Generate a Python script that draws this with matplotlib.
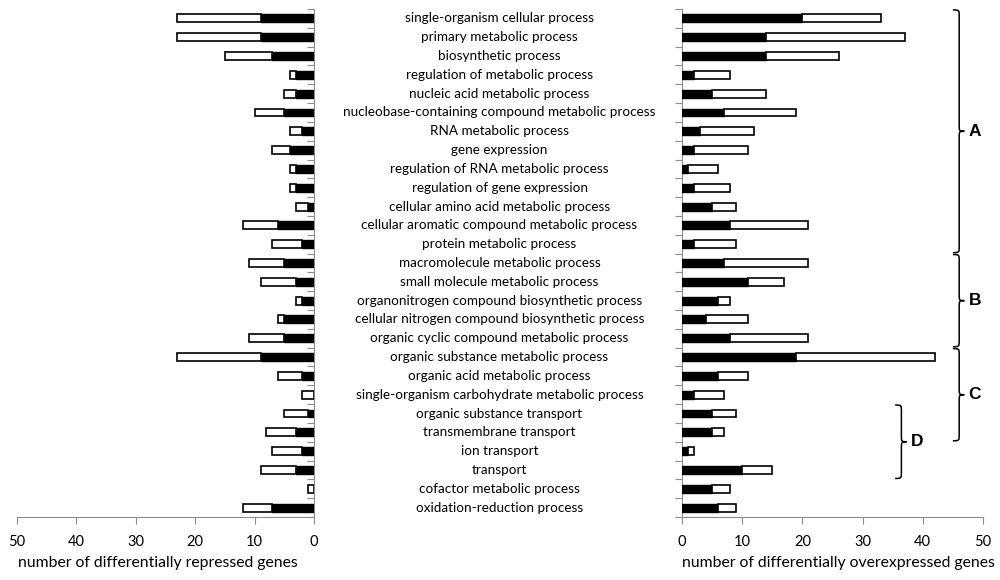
import matplotlib
matplotlib.use("Agg")
import matplotlib.pyplot as plt
from matplotlib.path import Path
from matplotlib.patches import PathPatch
from matplotlib.transforms import blended_transform_factory
import numpy as np

categories = [
    "single-organism cellular process",
    "primary metabolic process",
    "biosynthetic process",
    "regulation of metabolic process",
    "nucleic acid metabolic process",
    "nucleobase-containing compound metabolic process",
    "RNA metabolic process",
    "gene expression",
    "regulation of RNA metabolic process",
    "regulation of gene expression",
    "cellular amino acid metabolic process",
    "cellular aromatic compound metabolic process",
    "protein metabolic process",
    "macromolecule metabolic process",
    "small molecule metabolic process",
    "organonitrogen compound biosynthetic process",
    "cellular nitrogen compound biosynthetic process",
    "organic cyclic compound metabolic process",
    "organic substance metabolic process",
    "organic acid metabolic process",
    "single-organism carbohydrate metabolic process",
    "organic substance transport",
    "transmembrane transport",
    "ion transport",
    "transport",
    "cofactor metabolic process",
    "oxidation-reduction process",
]

# repressed genes: black part and total bar length
repressed_black = [9, 9, 7, 3, 3, 5, 2, 4, 3, 3, 1, 6, 2, 5, 3, 2, 5, 5, 9, 2, 0, 1, 3, 2, 3, 0, 7]
repressed_total = [23, 23, 15, 4, 5, 10, 4, 7, 4, 4, 3, 12, 7, 11, 9, 3, 6, 11, 23, 6, 2, 5, 8, 7, 9, 1, 12]

# overexpressed genes: black part and total bar length
over_black = [20, 14, 14, 2, 5, 7, 3, 2, 1, 2, 5, 8, 2, 7, 11, 6, 4, 8, 19, 6, 2, 5, 5, 1, 10, 5, 6]
over_total = [33, 37, 26, 8, 14, 19, 12, 11, 6, 8, 9, 21, 9, 21, 17, 8, 11, 21, 42, 11, 7, 9, 7, 2, 15, 8, 9]

x_ticks = [0, 10, 20, 30, 40, 50]
xlabel_left = "number of differentially repressed genes"
xlabel_right = "number of differentially overexpressed genes"

# groups: label, first row, last row
group_labels = ["A", "B", "C", "D"]
group_first = [0, 13, 18, 21]
group_last = [12, 17, 22, 24]

FONT = "Lato"
plt.rcParams["font.family"] = [FONT, "DejaVu Sans"]

fig = plt.figure(figsize=(10, 5.8), dpi=100)
bottom = 1 - 517 / 580
top = 1 - 9 / 580
axL = fig.add_axes([17 / 1000, bottom, (314 - 17) / 1000, top - bottom])
axR = fig.add_axes([682 / 1000, bottom, (983 - 682) / 1000, top - bottom])

y = np.arange(len(categories))
rb = np.array(repressed_black)
rt = np.array(repressed_total)
ob = np.array(over_black)
ot = np.array(over_total)
h = 0.42
gray = "#8c8c8c"

for ax, blk, tot in [(axL, rb, rt), (axR, ob, ot)]:
    ax.barh(y, blk, height=h, color="black", edgecolor="black", linewidth=1.0, zorder=3)
    ax.barh(y, tot - blk, left=blk, height=h, color="white", edgecolor="black", linewidth=1.2, zorder=3)
    ax.set_xlim(0, 50)
    ax.set_ylim(len(categories) - 0.5, -0.5)
    ax.set_xticks(x_ticks)
    ax.set_yticks(np.arange(len(categories) + 1) - 0.5)
    ax.set_yticklabels([])
    ax.spines["top"].set_visible(False)
    ax.spines["bottom"].set_color(gray)
    ax.tick_params(axis="x", colors=gray, labelcolor="black", labelsize=10.5, length=5, direction="out", pad=8)
    ax.tick_params(axis="y", colors=gray, length=5)

axL.invert_xaxis()
axL.spines["left"].set_visible(False)
axL.spines["right"].set_color(gray)
axL.yaxis.tick_right()
axL.tick_params(axis="y", direction="in")
axR.spines["right"].set_visible(False)
axR.spines["left"].set_color(gray)
axR.tick_params(axis="y", direction="out")

# x labels
fig.text(18 / 1000, 1 - 563 / 580, xlabel_left, ha="left", va="center", fontsize=11.3)
fig.text(682 / 1000, 1 - 563 / 580, xlabel_right, ha="left", va="center", fontsize=11.3)

# category labels in centre
trans = blended_transform_factory(fig.transFigure, axL.transData)
for i, c in enumerate(categories):
    axL.text(0.4995, i, c, transform=trans, ha="center", va="center", fontsize=9.7, clip_on=False)


def brace(ax, x0, w, y0, y1, r=0.35):
    xm = x0 + w * 0.55
    ymid = (y0 + y1) / 2
    verts = [
        (x0, y0), (xm, y0), (xm, y0), (xm, y0 + r),
        (xm, ymid - r),
        (xm, ymid), (xm, ymid), (x0 + w, ymid),
        (xm, ymid), (xm, ymid), (xm, ymid + r),
        (xm, y1 - r),
        (xm, y1), (xm, y1), (x0, y1),
    ]
    codes = [Path.MOVETO, Path.CURVE4, Path.CURVE4, Path.CURVE4,
             Path.LINETO,
             Path.CURVE4, Path.CURVE4, Path.CURVE4,
             Path.CURVE4, Path.CURVE4, Path.CURVE4,
             Path.LINETO,
             Path.CURVE4, Path.CURVE4, Path.CURVE4]
    ax.add_patch(PathPatch(Path(verts, codes), fill=False, edgecolor="black",
                           linewidth=1.1, clip_on=False, zorder=4))


brace_x = [45.0, 45.0, 45.0, 35.4]
for lab, f, l, bx in zip(group_labels, group_first, group_last, brace_x):
    brace(axR, bx, 1.9, f - 0.45, l + 0.45)
    axR.text(bx + 2.6, (f + l) / 2, lab, ha="left", va="center", fontsize=12.5,
             fontweight="bold", family=["Liberation Sans", "DejaVu Sans"], clip_on=False)

fig.savefig("out.png", dpi=100)
